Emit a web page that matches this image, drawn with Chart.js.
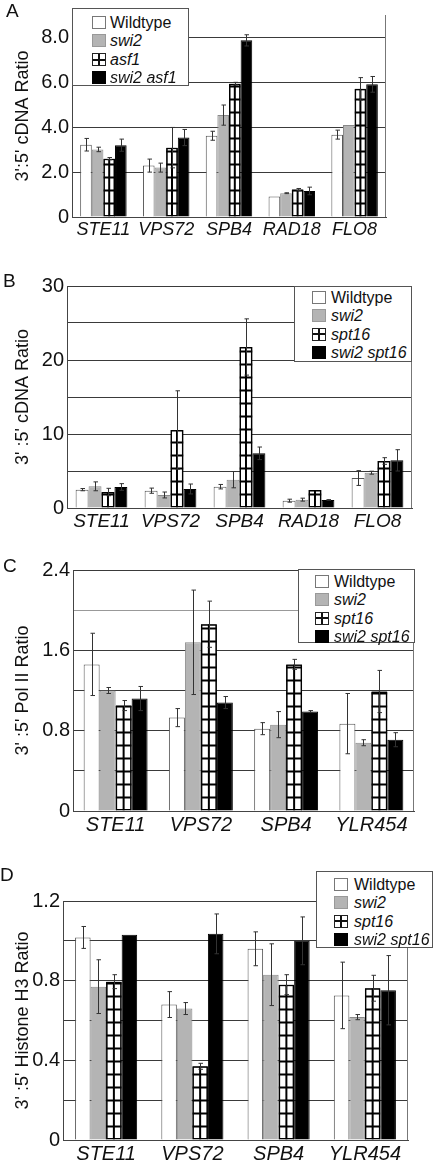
<!DOCTYPE html>
<html>
<head>
<meta charset="utf-8">
<script src="https://cdn.jsdelivr.net/npm/chart.js@4.4.1/dist/chart.umd.min.js"></script>
<style>
  body { margin: 0; background: #fff; font-family: "Liberation Sans", Arial, sans-serif; color: #111; }
  #wrap { position: relative; width: 434px; height: 1162px; overflow: hidden; }
  canvas { position: absolute; left: 0; }
  .letter { position: absolute; font-size: 19px; line-height: 20px; }
  .legend { position: absolute; background: #fff; border: 1px solid #555; box-sizing: border-box; }
  .row { position: absolute; left: 0; right: 0; height: 18px; }
  .sw { position: absolute; top: 2px; width: 14px; height: 13px; box-sizing: border-box; }
  .lbl { position: absolute; top: 0; font-size: 16px; line-height: 18px; white-space: nowrap; }
  .it { font-style: italic; }
</style>
</head>
<body>
<div id="wrap">
  <canvas id="chartA" width="434" height="245" style="top:0px"></canvas>
  <canvas id="chartB" width="434" height="265" style="top:270px"></canvas>
  <canvas id="chartC" width="434" height="290" style="top:555px"></canvas>
  <canvas id="chartD" width="434" height="297" style="top:865px"></canvas>
  <div class="letter" style="left:6px;top:1px">A</div>
  <div class="letter" style="left:3px;top:271px">B</div>
  <div class="letter" style="left:3px;top:556px">C</div>
  <div class="letter" style="left:0px;top:865px">D</div>
</div>
<script>
// categories
const genesAB = ['STE11', 'VPS72', 'SPB4', 'RAD18', 'FLO8'];
const genesCD = ['STE11', 'VPS72', 'SPB4', 'YLR454'];

// A: 3':5' cDNA ratio (asf1)
const seriesA = ['Wildtype', 'swi2', 'asf1', 'swi2 asf1'];
const wtA = [3.22, 2.29, 3.62, 0.91, 3.67];
const wtAErr = [0.28, 0.29, 0.2, 0, 0.2];
const swi2A = [3.01, 2.2, 4.54, 1.06, 4.1];
const swi2AErr = [0.1, 0.2, 0.45, 0.02, 0];
const asf1A = [2.6, 3.09, 5.94, 1.22, 5.71];
const asf1AErr = [0.05, 0.9, 0.06, 0.05, 0.5];
const swi2asf1A = [3.2, 3.54, 7.87, 1.16, 5.91];
const swi2asf1AErr = [0.27, 0.36, 0.25, 0.17, 0.35];

// B: 3':5' cDNA ratio (spt16)
const seriesBCD = ['Wildtype', 'swi2', 'spt16', 'swi2 spt16'];
const wtB = [2.48, 2.34, 2.88, 0.99, 4.05];
const wtBErr = [0.15, 0.35, 0.3, 0.2, 1.0];
const swi2B = [2.93, 1.76, 3.83, 1.13, 4.77];
const swi2BErr = [0.6, 0.4, 1.1, 0.2, 0.2];
const spt16B = [2.16, 10.54, 21.76, 2.43, 6.35];
const spt16BErr = [0.5, 5.3, 3.8, 0, 0.45];
const swi2spt16B = [2.84, 2.57, 7.39, 1.08, 6.44];
const swi2spt16BErr = [0.45, 0.67, 0.85, 0.05, 1.44];

// C: Pol II ratio
const wtC = [1.46, 0.93, 0.82, 0.87];
const wtCErr = [0.31, 0.09, 0.06, 0.3];
const swi2C = [1.2, 1.68, 0.86, 0.68];
const swi2CErr = [0.03, 0.52, 0.13, 0.03];
const spt16C = [1.05, 1.86, 1.46, 1.19];
const spt16CErr = [0.05, 0.23, 0.05, 0.21];
const swi2spt16C = [1.12, 1.08, 0.99, 0.71];
const swi2spt16CErr = [0.12, 0.06, 0.01, 0.07];

// D: Histone H3 ratio
const wtD = [1.017, 0.68, 0.96, 0.726];
const wtDErr = [0.055, 0.065, 0.085, 0.167];
const swi2D = [0.77, 0.66, 0.83, 0.617];
const swi2DErr = [0.135, 0.03, 0.155, 0.013];
const spt16D = [0.795, 0.37, 0.78, 0.762];
const spt16DErr = [0.035, 0.015, 0.05, 0.065];
const swi2spt16D = [1.03, 1.035, 1.0, 0.752];
const swi2spt16DErr = [0, 0.1, 0.12, 0.174];

// labelled y ticks
const yTicksA = ['0', '2.0', '4.0', '6.0', '8.0'];
const yTicksB = ['0', '10', '20', '30'];
const yTicksC = ['0', '0.8', '1.6', '2.4'];
const yTicksD = ['0', '0.4', '0.8', '1.2'];

const styles = [
  { backgroundColor: '#ffffff', borderColor: '#555' },
  { backgroundColor: '#b4b4b4', borderColor: '#8a8a8a' },
  { backgroundColor: '#ffffff', borderColor: '#000', hatch: true },
  { backgroundColor: '#000000', borderColor: '#000' }
];

// cross-hatch + error bars, drawn from the bar elements
const barExtras = {
  id: 'barExtras',
  afterDatasetsDraw(chart) {
    const ctx = chart.ctx;
    const y = chart.scales.y;
    chart.data.datasets.forEach((ds, di) => {
      const meta = chart.getDatasetMeta(di);
      meta.data.forEach((bar, i) => {
        const p = bar.getProps(['x', 'y', 'base', 'width'], true);
        if (ds.hatch) {
          const l = p.x - p.width / 2;
          ctx.save();
          ctx.beginPath();
          ctx.rect(l, p.y, p.width, p.base - p.y);
          ctx.clip();
          ctx.strokeStyle = '#000';
          ctx.lineWidth = 2;
          ctx.beginPath();
          ctx.moveTo(p.x, p.y);
          ctx.lineTo(p.x, p.base);
          for (let yy = p.base - 13; yy > p.y; yy -= 13) {
            ctx.moveTo(l, yy);
            ctx.lineTo(l + p.width, yy);
          }
          ctx.stroke();
          ctx.lineWidth = 1.5;
          ctx.strokeRect(l + 0.75, p.y + 0.75, p.width - 1.5, p.base - p.y - 1.5);
          ctx.restore();
        }
      });
    });
    chart.data.datasets.forEach((ds, di) => {
      const meta = chart.getDatasetMeta(di);
      meta.data.forEach((bar, i) => {
        const e = ds.errors[i];
        if (!e) return;
        const v = ds.data[i];
        const x = Math.round(bar.x) + 0.5;
        const top = y.getPixelForValue(v + e);
        const bot = y.getPixelForValue(v - e);
        ctx.save();
        ctx.strokeStyle = '#333';
        ctx.lineWidth = 1;
        ctx.beginPath();
        ctx.moveTo(x, top); ctx.lineTo(x, bot);
        ctx.moveTo(x - 2, top); ctx.lineTo(x + 2.5, top);
        ctx.moveTo(x - 2, bot); ctx.lineTo(x + 2.5, bot);
        ctx.stroke();
        ctx.restore();
      });
    });
    // right edge of the plot frame
    const a = chart.chartArea;
    ctx.save();
    ctx.strokeStyle = '#777';
    ctx.lineWidth = 1;
    ctx.beginPath();
    ctx.moveTo(a.right - 0.5, a.top);
    ctx.lineTo(a.right - 0.5, a.bottom);
    ctx.stroke();
    ctx.restore();
  }
};

function makePanel(id, cfg) {
  const canvas = document.getElementById(id);
  const cTop = parseInt(canvas.style.top);
  const cH = canvas.height;
  const area = cfg.area;
  const datasets = cfg.series.map((name, k) => ({
    label: name,
    data: cfg.values[k],
    errors: cfg.errors[k],
    backgroundColor: styles[k].backgroundColor,
    borderColor: styles[k].borderColor,
    borderWidth: 1,
    hatch: styles[k].hatch || false,
    barPercentage: 1,
    categoryPercentage: cfg.catPct
  }));
  return new Chart(canvas, {
    type: 'bar',
    data: { labels: cfg.labels, datasets: datasets },
    options: {
      responsive: false,
      animation: false,
      layout: { padding: { top: area.top - cTop, right: 434 - area.right, left: 0, bottom: 0 } },
      plugins: { legend: { display: false }, tooltip: { enabled: false } },
      scales: {
        x: {
          grid: { display: false, drawTicks: false },
          border: { display: true, color: '#444' },
          ticks: {
            autoSkip: false, maxRotation: 0, minRotation: 0, padding: 2,
            color: '#111',
            font: { family: 'Liberation Sans', size: cfg.xFont, style: 'italic' }
          },
          afterFit: s => { s.height = cTop + cH - area.bottom; }
        },
        y: {
          min: 0, max: cfg.max,
          ticks: {
            stepSize: cfg.step, padding: 3, color: '#111',
            font: { family: 'Liberation Sans', size: 20 },
            callback: v => {
              const k = Math.round(v / cfg.step);
              return k % cfg.labelEvery === 0 ? cfg.yLabels[k / cfg.labelEvery] : '';
            }
          },
          grid: { color: cfg.gridColor || '#3a3a3a', lineWidth: 1, drawTicks: false },
          border: { display: true, color: '#444' },
          title: {
            display: true, text: cfg.title, color: '#111',
            font: { family: 'Liberation Sans', size: 18 },
            padding: { top: 12, bottom: 0 }
          },
          afterFit: s => { s.width = area.left; }
        }
      }
    },
    plugins: [barExtras]
  });
}

makePanel('chartA', {
  labels: genesAB, series: seriesA,
  values: [wtA, swi2A, asf1A, swi2asf1A],
  errors: [wtAErr, swi2AErr, asf1AErr, swi2asf1AErr],
  area: { left: 72, right: 386, top: 8, bottom: 217 },
  max: 9, step: 1, labelEvery: 2, yLabels: yTicksA,
  title: "3':5' cDNA Ratio", xFont: 18, catPct: 0.74
});
makePanel('chartB', {
  labels: genesAB, series: seriesBCD,
  values: [wtB, swi2B, spt16B, swi2spt16B],
  errors: [wtBErr, swi2BErr, spt16BErr, swi2spt16BErr],
  area: { left: 67, right: 412, top: 286, bottom: 508 },
  max: 30, step: 5, labelEvery: 2, yLabels: yTicksB,
  title: "3' :5' cDNA Ratio", xFont: 19, catPct: 0.75
});
makePanel('chartC', {
  labels: genesCD, series: seriesBCD,
  values: [wtC, swi2C, spt16C, swi2spt16C],
  errors: [wtCErr, swi2CErr, spt16CErr, swi2spt16CErr],
  area: { left: 73, right: 414, top: 569, bottom: 811 },
  max: 2.4, step: 0.4, labelEvery: 2, yLabels: yTicksC,
  gridColor: c => (c.tick && Math.abs(c.tick.value - 2) < 1e-6 ? '#999' : '#3a3a3a'),
  title: "3' :5' Pol II Ratio", xFont: 20, catPct: 0.75
});
makePanel('chartD', {
  labels: genesCD, series: seriesBCD,
  values: [wtD, swi2D, spt16D, swi2spt16D],
  errors: [wtDErr, swi2DErr, spt16DErr, swi2spt16DErr],
  area: { left: 63, right: 408, top: 901, bottom: 1140 },
  max: 1.2, step: 0.2, labelEvery: 2, yLabels: yTicksD,
  title: "3' :5' Histone H3 Ratio", xFont: 20, catPct: 0.72
});

// legends (HTML boxes placed over the plots)
function swatchStyle(k) {
  if (k === 0) return 'background:#fff;border:1px solid #777;';
  if (k === 1) return 'background:#b4b4b4;border:1px solid #999;';
  if (k === 2) return 'border:1px solid #222;background:' +
    'linear-gradient(to right, transparent 5.5px, #111 5.5px, #111 7.5px, transparent 7.5px),' +
    'linear-gradient(to bottom, transparent 4.5px, #111 4.5px, #111 6.5px, transparent 6.5px), #fff;';
  return 'background:#000;border:1px solid #000;';
}
function addLegend(series, box) {
  const el = document.createElement('div');
  el.className = 'legend';
  el.style.cssText = `left:${box.x}px;top:${box.y}px;width:${box.w}px;height:${box.h}px;`;
  series.forEach((name, k) => {
    const row = document.createElement('div');
    row.className = 'row';
    row.style.top = (box.first + k * 18.3 - 9) + 'px';
    row.innerHTML = `<div class="sw" style="left:${box.sx}px;${swatchStyle(k)}"></div>` +
      `<div class="lbl${k ? ' it' : ''}" style="left:${box.tx}px">${name}</div>`;
    el.appendChild(row);
  });
  document.getElementById('wrap').appendChild(el);
}
addLegend(seriesA, { x: 72, y: 8, w: 117, h: 78, first: 14, sx: 19, tx: 37 });
addLegend(seriesBCD, { x: 294, y: 286, w: 118, h: 76, first: 11, sx: 17, tx: 36 });
addLegend(seriesBCD, { x: 298, y: 569, w: 117, h: 74, first: 12, sx: 16, tx: 35 });
addLegend(seriesBCD, { x: 316, y: 871, w: 117, h: 77, first: 13, sx: 17, tx: 37 });
</script>
</body>
</html>
